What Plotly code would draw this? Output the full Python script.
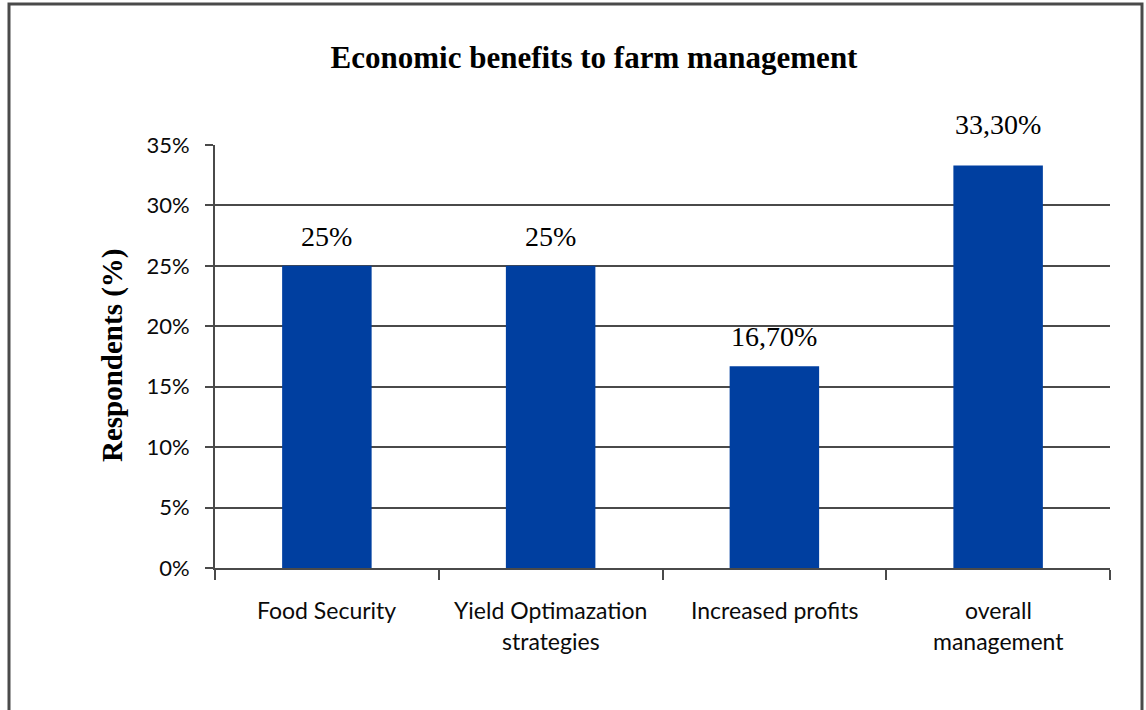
import plotly.graph_objects as go

# Survey results
categories = ["Food Security", "Yield Optimazation\nstrategies", "Increased profits", "overall\nmanagement"]
respondents_pct = [25, 25, 16.7, 33.3]
y_ticks = [0, 5, 10, 15, 20, 25, 30, 35]
y_tick_labels = ["0%", "5%", "10%", "15%", "20%", "25%", "30%", "35%"]

W, H = 1146, 710
M_L, M_R, M_T, M_B = 215, 36, 145, 142
PW, PH = W - M_L - M_R, H - M_T - M_B

BAR_COLOR = "#003FA0"
LINE_COLOR = "#4a4a4a"
SANS = "Lato, 'Open Sans', sans-serif"
SERIF = "'Liberation Serif', 'Times New Roman', serif"


def px_x(px):
    return (px - M_L) / PW


def px_y(py):
    return (H - M_B - py) / PH


def pct_label(v):
    if float(v).is_integer():
        return f"{int(v)}%"
    return f"{v:.2f}".replace(".", ",") + "%"


cat_keys = [c.replace("\n", " ") for c in categories]

fig = go.Figure(
    go.Bar(
        x=cat_keys,
        y=respondents_pct,
        marker=dict(color=BAR_COLOR, line=dict(width=0)),
        width=0.4,
        hoverinfo="skip",
    )
)

annotations = []
# value labels above bars
for k, v in zip(cat_keys, respondents_pct):
    lift = 24 if v > 30 else 12
    annotations.append(dict(
        x=k, y=v, xref="x", yref="y", text=pct_label(v), showarrow=False,
        xanchor="center", yanchor="bottom", yshift=lift,
        font=dict(family=SERIF, size=28, color="#000000"),
    ))

# category labels, one annotation per line for wider line spacing
for k, c in zip(cat_keys, categories):
    for j, line in enumerate(c.split("\n")):
        annotations.append(dict(
            x=k, y=px_y(610 + 31 * j), xref="x", yref="paper", text=line,
            showarrow=False, xanchor="center", yanchor="middle",
            font=dict(family=SANS, size=23, color="#0a0a0a"),
        ))

# y axis title
annotations.append(dict(
    x=px_x(112), y=px_y(355), xref="paper", yref="paper",
    text="<b>Respondents (%)</b>", textangle=-90, showarrow=False,
    xanchor="center", yanchor="middle",
    font=dict(family=SERIF, size=29, color="#000000"),
))

# outer frame (open at the bottom edge)
frame = dict(
    type="path", xref="paper", yref="paper",
    path=(f"M {px_x(9)} {px_y(720)} L {px_x(9)} {px_y(4)} "
          f"L {px_x(1142)} {px_y(4)} L {px_x(1142)} {px_y(720)}"),
    line=dict(color=LINE_COLOR, width=3),
)

fig.update_layout(
    width=W, height=H,
    margin=dict(l=M_L, r=M_R, t=M_T, b=M_B, autoexpand=False),
    paper_bgcolor="white", plot_bgcolor="white",
    showlegend=False,
    bargap=0.6,
    title=dict(
        text="<b>Economic benefits to farm management</b>",
        x=594 / W, xanchor="center", y=1 - 57 / H, yanchor="middle",
        xref="container", yref="container",
        font=dict(family=SERIF, size=31, color="#000000"),
    ),
    xaxis=dict(
        type="category", categoryorder="array", categoryarray=cat_keys,
        showticklabels=False, showgrid=False,
        showline=True, linecolor=LINE_COLOR, linewidth=2,
        ticks="outside", tickson="boundaries", ticklen=10,
        tickcolor=LINE_COLOR, tickwidth=2,
    ),
    yaxis=dict(
        range=[0, 35], tickmode="array", tickvals=y_ticks, ticktext=y_tick_labels,
        showgrid=True, gridcolor=LINE_COLOR, gridwidth=1.5,
        showline=True, linecolor=LINE_COLOR, linewidth=2,
        ticks="outside", ticklen=8, tickcolor=LINE_COLOR, tickwidth=1.5,
        ticklabelstandoff=11,
        tickfont=dict(family=SANS, size=22, color="#0a0a0a"),
        zeroline=False,
    ),
    annotations=annotations,
    shapes=[frame],
)

fig.write_html("out.html")
